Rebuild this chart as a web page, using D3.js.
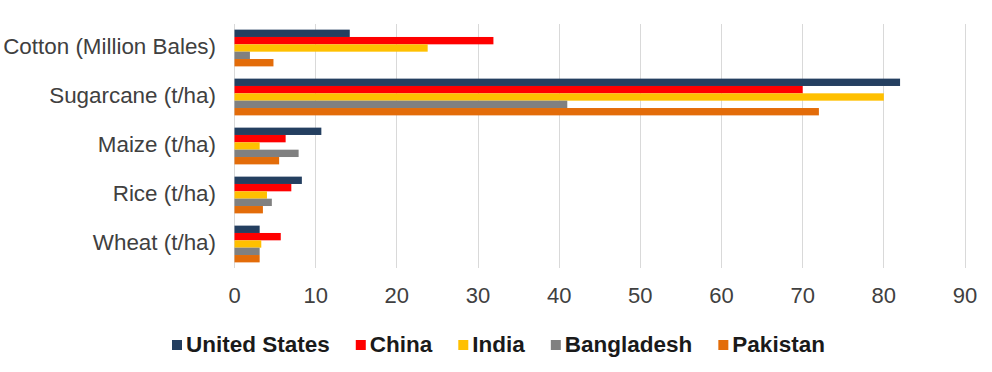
<!DOCTYPE html>
<html>
<head>
<meta charset="utf-8">
<script src="https://cdn.jsdelivr.net/npm/d3@7"></script>
<style>
html,body{margin:0;padding:0;background:#fff;}
svg{display:block;font-family:Arial,"Liberation Sans",sans-serif;}
</style>
</head>
<body>
<svg id="chart" width="992" height="372"></svg>
<script>
const categories = ["Cotton (Million Bales)", "Sugarcane (t/ha)", "Maize (t/ha)", "Rice (t/ha)", "Wheat (t/ha)"];
const seriesNames = ["United States", "China", "India", "Bangladesh", "Pakistan"];
const unitedStates = [14.2, 82, 10.7, 8.3, 3.1];
const china = [31.9, 70, 6.3, 7.0, 5.7];
const india = [23.8, 80, 3.1, 4.0, 3.3];
const bangladesh = [1.9, 41, 7.9, 4.6, 3.1];
const pakistan = [4.8, 72, 5.5, 3.5, 3.1];
const colors = ["#243F60", "#FF0000", "#FFC000", "#808080", "#E36C09"];
const xTicks = [0, 10, 20, 30, 40, 50, 60, 70, 80, 90];

const seriesValues = [unitedStates, china, india, bangladesh, pakistan];

const svg = d3.select("#chart");
const x = d3.scaleLinear().domain([0, 90]).range([234, 964.5]);
const y = d3.scaleBand().domain(categories).range([23.5, 268.5]).paddingInner(0.25).paddingOuter(0.125);
const ySub = d3.scaleBand().domain(seriesNames).range([0, y.bandwidth()]);

// gridlines
svg.append("g").selectAll("line").data(xTicks).join("line")
  .attr("x1", d => Math.round(x(d)) + 0.5).attr("x2", d => Math.round(x(d)) + 0.5)
  .attr("y1", 24).attr("y2", 268)
  .attr("stroke", "#d9d9d9").attr("stroke-width", 1);

// bars
const groups = svg.append("g").selectAll("g").data(categories).join("g")
  .attr("transform", d => `translate(0,${y(d)})`);
groups.selectAll("rect").data((c, i) => seriesNames.map((s, j) => ({s, j, v: seriesValues[j][i]})))
  .join("rect")
  .attr("x", x(0) + 0.5)
  .attr("y", d => ySub(d.s))
  .attr("width", d => x(d.v) - x(0))
  .attr("height", ySub.bandwidth())
  .attr("fill", d => colors[d.j]);

// x axis labels
const xAxis = d3.axisBottom(x).tickValues(xTicks).tickSize(0).tickPadding(0);
const gx = svg.append("g").attr("transform", "translate(0,287)").call(xAxis);
gx.select(".domain").remove();
gx.selectAll("text").attr("font-size", 22).attr("fill", "#404040")
  .attr("font-family", "Arial,'Liberation Sans',sans-serif").attr("dy", "0.71em");

// y axis labels
const yAxis = d3.axisLeft(y).tickSize(0).tickPadding(0);
const gy = svg.append("g").attr("transform", "translate(216,-1)").call(yAxis);
gy.select(".domain").remove();
gy.selectAll("text").attr("font-size", 22.4).attr("fill", "#404040")
  .attr("font-family", "Arial,'Liberation Sans',sans-serif");

// legend
const legend = svg.append("g");
let lx = 172;
seriesNames.forEach((name, i) => {
  legend.append("rect").attr("x", lx).attr("y", 340).attr("width", 10).attr("height", 10).attr("fill", colors[i]);
  const t = legend.append("text").attr("x", lx + 14).attr("y", 352)
    .attr("font-size", 22.5).attr("font-weight", "bold").attr("fill", "#1a1a1a").text(name);
  lx = lx + 14 + t.node().getComputedTextLength() + 26;
});
</script>
</body>
</html>
